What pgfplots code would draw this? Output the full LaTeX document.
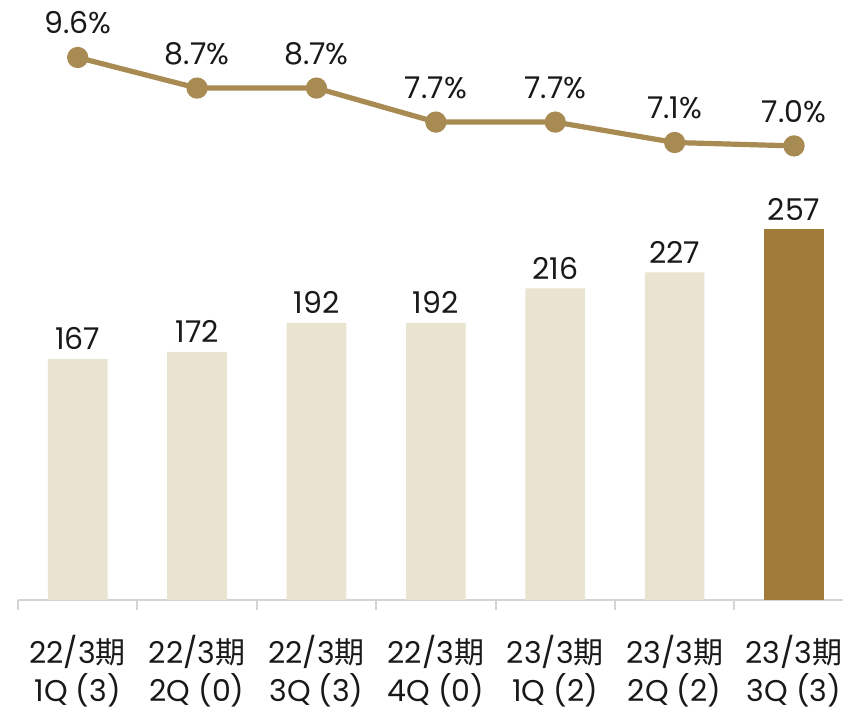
\documentclass[border=0pt]{standalone}
\usepackage{fontspec}
\setmainfont{Poppins}
\newfontfamily\cjk{Noto Sans CJK JP}
\usepackage{pgfplots}
\pgfplotsset{compat=1.18}
\definecolor{lightbar}{RGB}{232,228,208}
\definecolor{darkbar}{RGB}{160,123,58}
\definecolor{goldline}{RGB}{168,139,82}
\definecolor{axgray}{RGB}{212,212,212}
\definecolor{txt}{RGB}{25,25,25}

\begin{document}
\begin{tikzpicture}
\pgfplotsset{/pgf/number format/assume math mode=true}
% bars (count)
\begin{axis}[scale only axis, width=412.5pt, height=300pt,
  xmin=-0.5, xmax=6.41, ymin=0, ymax=415.8,
  axis x line*=bottom, axis y line=none,
  x axis line style={draw=axgray, line width=1pt, -},
  xtick={0,...,6},
  xticklabels={{22/3{\cjk 期}\\1Q (3)},{22/3{\cjk 期}\\2Q (0)},{22/3{\cjk 期}\\3Q (3)},
    {22/3{\cjk 期}\\4Q (0)},{23/3{\cjk 期}\\1Q (2)},{23/3{\cjk 期}\\2Q (2)},{23/3{\cjk 期}\\3Q (3)}},
  xticklabel style={align=center, text=txt, font=\fontsize{15}{19}\selectfont, yshift=-10pt},
  major x tick style={draw=none},
  extra x ticks={-0.5,0.5,1.5,2.5,3.5,4.5,5.5},
  extra x tick labels={},
  extra x tick style={major tick length=5pt, tick align=outside,
    major x tick style={draw=axgray, line width=1pt}},
  ybar, bar width=0.5, bar shift=0pt, clip=false,
  nodes near coords,
  every node near coord/.append style={text=txt, font=\fontsize{15}{18}\selectfont, yshift=1pt},
  ]
\addplot[fill=lightbar, draw=none] coordinates {(0,167)(1,172)(2,192)(3,192)(4,216)(5,227)};
\addplot[fill=darkbar, draw=none] coordinates {(6,257)};
\end{axis}
% line (ratio)
\begin{axis}[scale only axis, width=412.5pt, height=300pt,
  xmin=-0.5, xmax=6.41, ymin=-6.35, ymax=11.29,
  axis lines=none, clip=false]
\addplot[goldline, line width=2.6pt, mark=*, mark size=4pt,
  mark options={fill=goldline, draw=none},
  nodes near coords={\pgfmathprintnumber[fixed,fixed zerofill,precision=1]{\pgfplotspointmeta}\%},
  every node near coord/.append style={text=txt, font=\fontsize{15}{18}\selectfont, anchor=south, yshift=7pt}]
  coordinates {(0,9.6)(1,8.7)(2,8.7)(3,7.7)(4,7.7)(5,7.1)(6,7.0)};
\end{axis}
\pgfresetboundingbox
\path (-9pt,-56pt) rectangle (412.5pt,300pt);
\end{tikzpicture}
\end{document}
